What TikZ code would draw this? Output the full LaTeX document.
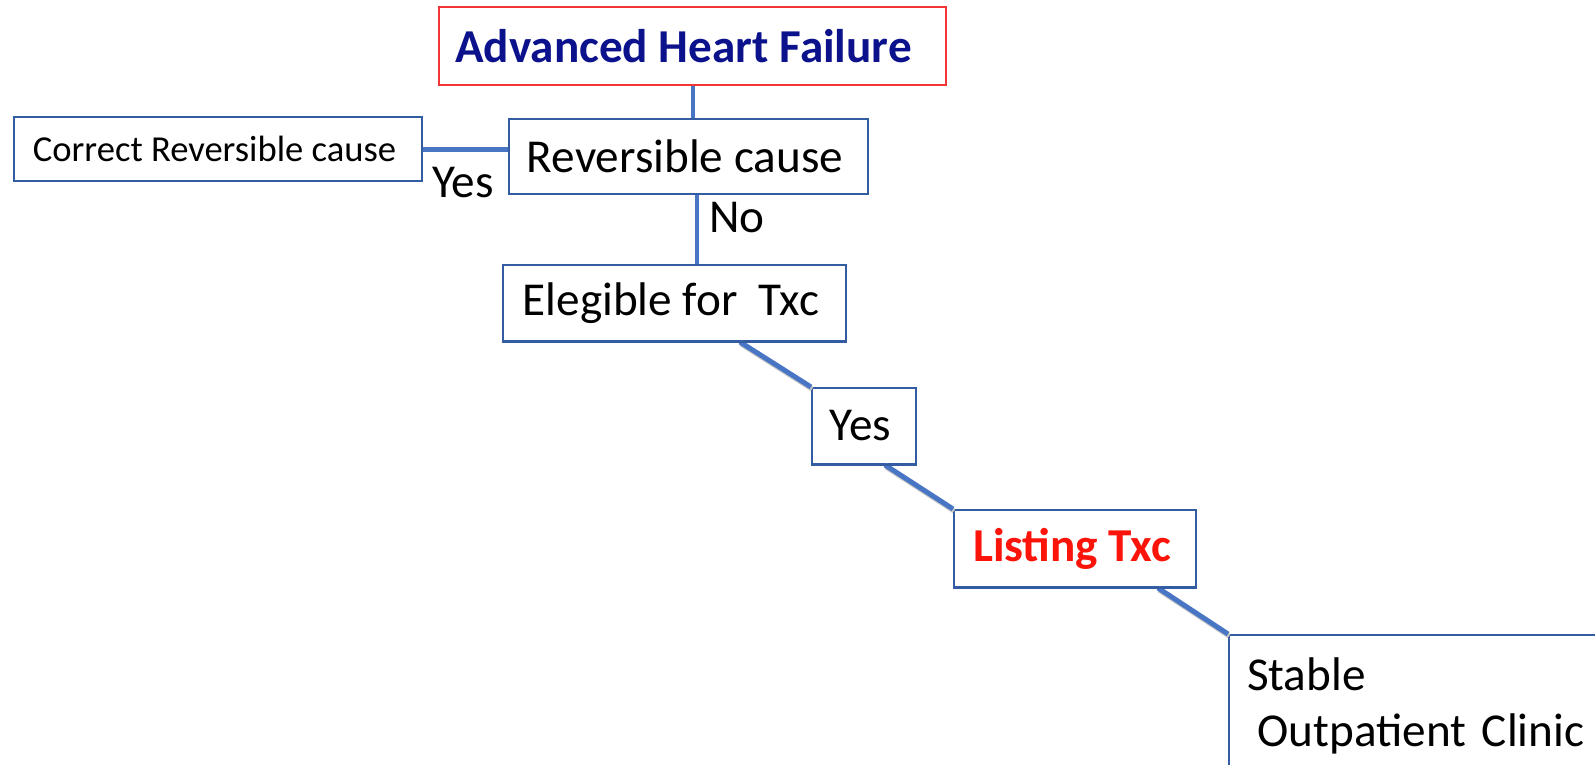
\documentclass[tikz,border=0pt]{standalone}
\usepackage{fontspec}
\setmainfont{Carlito}
\definecolor{boxblue}{RGB}{52,92,162}
\definecolor{connblue}{RGB}{72,118,196}
\definecolor{ahfred}{RGB}{242,52,52}
\definecolor{ahfnavy}{RGB}{12,18,140}
\definecolor{listred}{RGB}{250,20,10}
\tikzset{
  box/.style={draw=boxblue, line width=2pt, rectangle, inner sep=0pt, fill=white,
              font=\fontsize{47.2}{56}\selectfont},
  conn/.style={draw=connblue, line width=5pt},
  shade/.style={draw=black!22, line width=5pt},
  lbl/.style={inner sep=0pt, font=\fontsize{47.2}{56}\selectfont}
}
\begin{document}
\begin{tikzpicture}[x=1pt,y=-1pt]
\useasboundingbox (0,0) rectangle (1595,764);
\clip (0,0) rectangle (1595,764);
% nodes
\node[box, draw=ahfred, minimum width=507pt, minimum height=78pt, text=ahfnavy,
      font=\fontsize{47.2}{56}\selectfont\bfseries] (ahf) at (692.5,46) {\hspace*{-18pt}Advanced Heart Failure};
\node[box, minimum width=408pt, minimum height=64pt, font=\fontsize{36.6}{44}\selectfont] (crc) at (218,149) {\hspace*{-7pt}Correct Reversible cause};
\node[box, minimum width=359pt, minimum height=75pt] (rc) at (688.5,156.5) {\hspace*{-7pt}Reversible cause};
\node[box, minimum width=343pt, minimum height=76pt] (el) at (674.5,303) {\hspace*{-7pt}Elegible for\ \ Txc};
\node[box, minimum width=104pt, minimum height=76pt] (yes) at (864,426) {\hspace*{-7pt}Yes};
\node[box, minimum width=242pt, minimum height=77pt, text=listred,
      font=\fontsize{47.2}{56}\selectfont\bfseries] (lst) at (1075,548.5) {\hspace*{-6pt}Listing Txc};
\node[box, anchor=north west, align=left, text width=360pt, inner xsep=18pt, inner ysep=23pt]
      (stb) at (1228,634) {Stable\\\hspace*{10.4pt}Outpatient Clinic};
% connector shadows
\draw[shade] ([xshift=66.5pt,yshift=-2pt]el.south) -- ([xshift=1pt,yshift=-2pt]yes.north west);
\draw[shade] ([xshift=22pt,yshift=-2pt]yes.south) -- ([xshift=1pt,yshift=-2pt]lst.north west);
\draw[shade] ([xshift=84pt,yshift=-2pt]lst.south) -- ([xshift=1pt,yshift=-2pt]stb.north west);
% connectors
\draw[conn, line width=4pt] (ahf.south) -- (ahf.south |- rc.north);
\draw[conn] (crc.east) -- (crc.east -| rc.west);
\draw[conn, line width=4.5pt] ([xshift=8.5pt]rc.south) -- ([xshift=8.5pt]rc.south |- el.north);
\draw[conn] ([xshift=65.5pt]el.south) -- (yes.north west);
\draw[conn] ([xshift=21pt]yes.south) -- (lst.north west);
\draw[conn] ([xshift=83pt]lst.south) -- (stb.north west);
% redraw box borders over connector ends
\foreach \n in {el,yes,lst}{\draw[draw=boxblue, line width=2pt] (\n.south west) -- (\n.south east);}
% labels
\node[lbl] (lyes) at (463,183) {Yes};
\node[lbl] (lno) at (737,218) {No};
\end{tikzpicture}
\end{document}
